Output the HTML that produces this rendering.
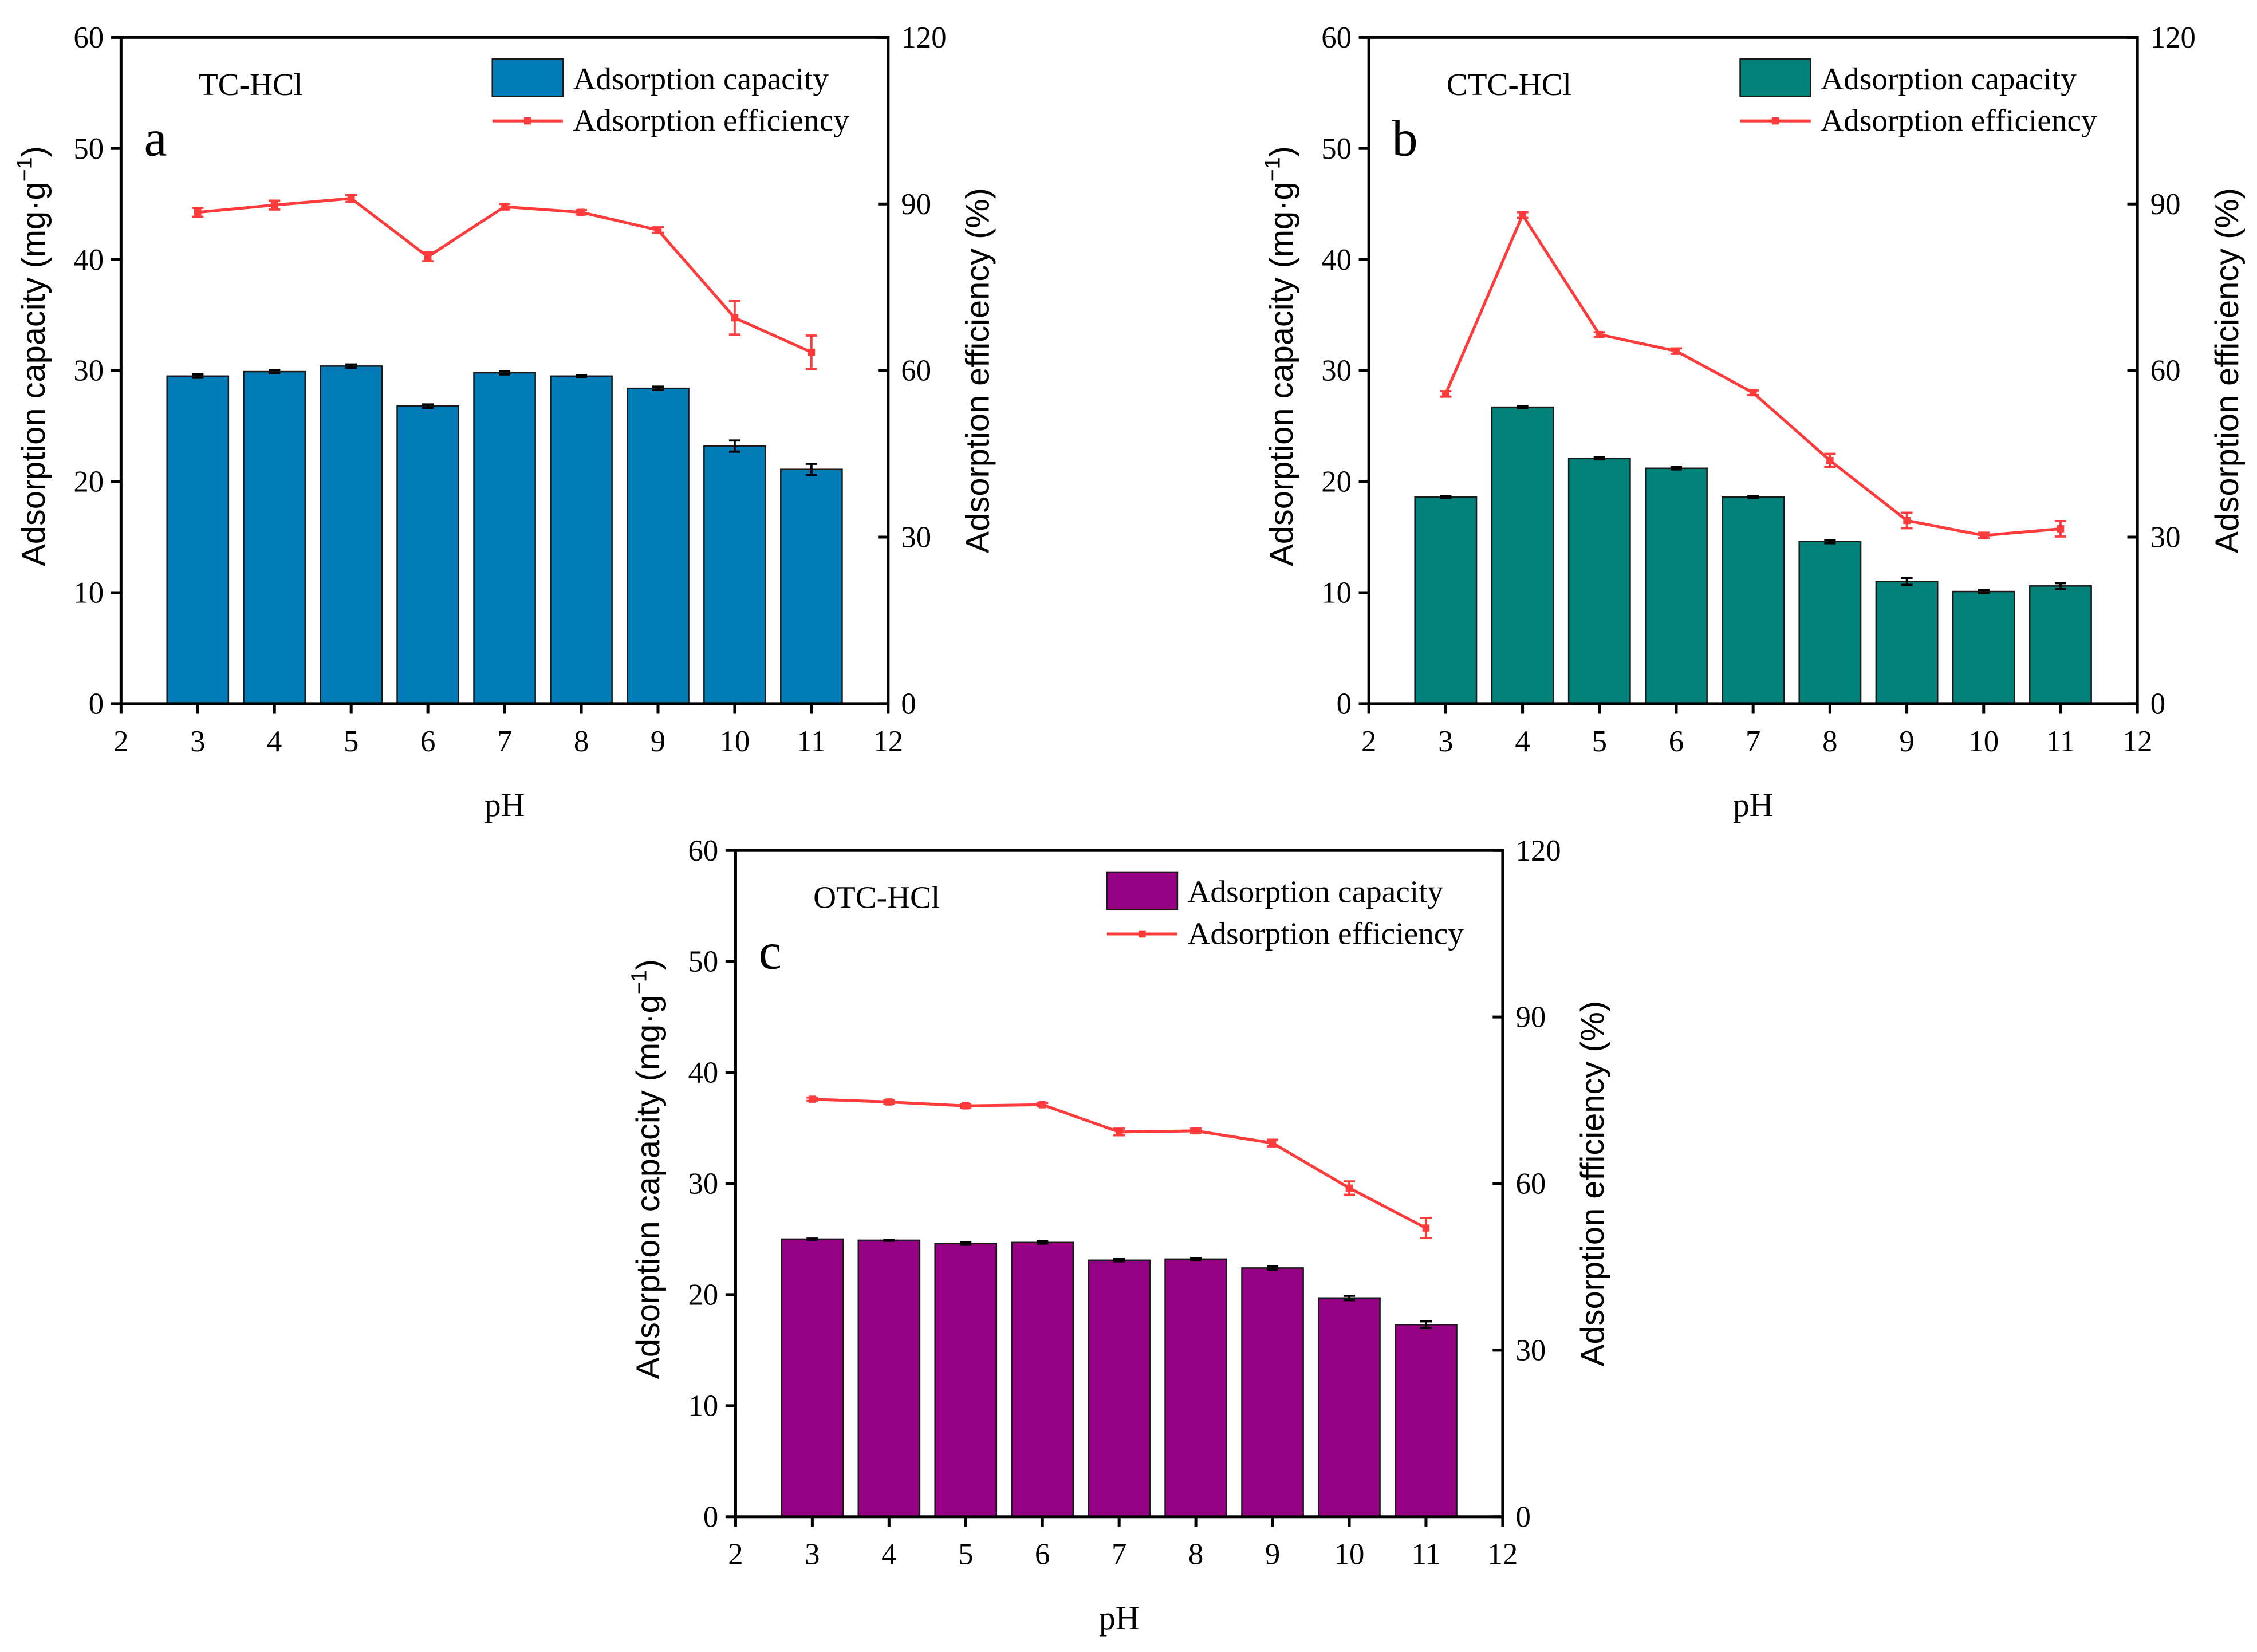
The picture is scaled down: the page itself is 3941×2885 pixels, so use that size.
<!DOCTYPE html>
<html><head><meta charset="utf-8"><style>
html,body{margin:0;padding:0;background:#fff}
svg{display:block}
text{font-family:"Liberation Serif",serif;fill:#000}
</style></head><body>
<svg id="chart" width="3941" height="2885" viewBox="0 0 1568 1148" xmlns="http://www.w3.org/2000/svg"></svg>
<script>
const phValues = [3,4,5,6,7,8,9,10,11];
const xTicks = [2,3,4,5,6,7,8,9,10,11,12];
const leftTicks = [0,10,20,30,40,50,60];
const rightTicks = [0,30,60,90,120];
const capA = [29.5,29.9,30.4,26.8,29.8,29.5,28.4,23.2,21.1];
const capAErr = [0.15,0.15,0.15,0.15,0.15,0.1,0.15,0.5,0.5];
const effA = [88.5,89.8,91.0,80.5,89.5,88.5,85.3,69.5,63.3];
const effAErr = [0.8,0.8,0.6,0.8,0.5,0.4,0.5,3.0,3.0];
const capB = [18.6,26.7,22.1,21.2,18.6,14.6,11.0,10.1,10.6];
const capBErr = [0.1,0.1,0.1,0.1,0.1,0.15,0.3,0.15,0.25];
const effB = [55.8,88.0,66.5,63.5,56.0,43.8,33.0,30.3,31.5];
const effBErr = [0.5,0.5,0.4,0.5,0.4,1.2,1.4,0.5,1.4];
const capC = [25.0,24.9,24.6,24.7,23.1,23.2,22.4,19.7,17.3];
const capCErr = [0.05,0.05,0.1,0.1,0.1,0.1,0.15,0.2,0.3];
const effC = [75.2,74.7,74.0,74.2,69.3,69.5,67.3,59.2,52.0];
const effCErr = [0.3,0.3,0.3,0.3,0.6,0.4,0.6,1.2,1.8];

const NS='http://www.w3.org/2000/svg';
const svg=document.getElementById('chart');
function mk(tag,attrs,parent){const e=document.createElementNS(NS,tag);for(const k in attrs)e.setAttribute(k,attrs[k]);(parent||svg).appendChild(e);return e;}

function panel(id,x0,x1,yTop,yBot,color,title,letter,cap,capErr,eff,effErr){
  const g=mk('g',{});
  
  
  const sx=v=>x0+(v-2)/10*(x1-x0);
  const sy=v=>yBot-v/60*(yBot-yTop);
  const sr=v=>yBot-v/120*(yBot-yTop);
  const bw=(x1-x0)/10*0.8;
  cap.forEach((v,i)=>{
    const r=mk('rect',{x:sx(phValues[i])-bw/2,y:sy(v),width:bw,height:sy(0)-sy(v),fill:color,stroke:'#1a1a1a','stroke-width':1},g);
    
    
    const cx=sx(phValues[i]);
    const e=mk('path',{d:`M${cx},${sy(v+capErr[i])}V${sy(v-capErr[i])}M${cx-4},${sy(v+capErr[i])}H${cx+4}M${cx-4},${sy(v-capErr[i])}H${cx+4}`,stroke:'#000','stroke-width':1.5,fill:'none'},g);
    
    
  });
  const pts=eff.map((v,i)=>sx(phValues[i])+','+sr(v)).join(' ');
  const pl=mk('polyline',{points:pts,fill:'none',stroke:'#ff3b3b','stroke-width':2},g);
  
  
  eff.forEach((v,i)=>{
    const cx=sx(phValues[i]);
    const e=mk('path',{d:`M${cx},${sr(v+effErr[i])}V${sr(v-effErr[i])}M${cx-4},${sr(v+effErr[i])}H${cx+4}M${cx-4},${sr(v-effErr[i])}H${cx+4}`,stroke:'#ff3b3b','stroke-width':1.5,fill:'none'},g);
    
    
    mk('rect',{x:cx-2.5,y:sr(v)-2.5,width:5,height:5,fill:'#ff3b3b'},g);
  });
  const fr=mk('rect',{x:x0,y:yTop,width:x1-x0,height:yBot-yTop,fill:'none',stroke:'#000','stroke-width':2},g);
  
  
  xTicks.forEach(t=>{
    mk('line',{x1:sx(t),x2:sx(t),y1:yBot,y2:yBot+7,stroke:'#000','stroke-width':2},g);
    const tx=mk('text',{x:sx(t),y:yBot+33,'text-anchor':'middle','font-size':21},g);
    tx.textContent=t;
    
    
  });
  leftTicks.forEach(t=>{
    mk('line',{x1:x0-7,x2:x0,y1:sy(t),y2:sy(t),stroke:'#000','stroke-width':2},g);
    const tx=mk('text',{x:x0-12,y:sy(t)+7,'text-anchor':'end','font-size':21},g);
    tx.textContent=t;
    
    
  });
  rightTicks.forEach(t=>{
    mk('line',{x1:x1-7,x2:x1,y1:sr(t),y2:sr(t),stroke:'#000','stroke-width':2},g);
    const tx=mk('text',{x:x1+9,y:sr(t)+7,'text-anchor':'start','font-size':21},g);
    tx.textContent=t;
    
    
  });
  const cy=(yTop+yBot)/2;
  const lt=mk('text',{x:0,y:0,'text-anchor':'middle','font-size':23,transform:`translate(${x0-53},${cy-10}) rotate(-90)`,style:'font-family:"Liberation Sans",sans-serif'},g);
  lt.innerHTML='Adsorption capacity (mg·g<tspan dy="-9" font-size="15">−1</tspan><tspan dy="9">)</tspan>';
  
  
  const rt=mk('text',{x:0,y:0,'text-anchor':'middle','font-size':23,transform:`translate(${x1+70},${cy}) rotate(-90)`,style:'font-family:"Liberation Sans",sans-serif'},g);
  rt.textContent='Adsorption efficiency (%)';
  
  
  const xt=mk('text',{x:(x0+x1)/2,y:yBot+78,'text-anchor':'middle','font-size':23},g);
  xt.textContent='pH';
  
  
  const tt=mk('text',{x:x0+54,y:yTop+40,'font-size':22},g);
  tt.textContent=title;
  
  
  const lt2=mk('text',{x:x0+16,y:yTop+82,'font-size':36},g);
  lt2.textContent=letter;
  
  
  const lx=x0+258;
  const lr=mk('rect',{x:lx,y:yTop+15,width:49,height:26,fill:color,stroke:'#1a1a1a','stroke-width':1},g);
  
  
  const l1=mk('text',{x:lx+56,y:yTop+36,'font-size':22},g);
  l1.textContent='Adsorption capacity';
  
  
  mk('line',{x1:lx,x2:lx+49,y1:yTop+58,y2:yTop+58,stroke:'#ff3b3b','stroke-width':2},g);
  mk('rect',{x:lx+22,y:yTop+55.5,width:5,height:5,fill:'#ff3b3b'},g);
  const l2=mk('text',{x:lx+56,y:yTop+65,'font-size':22},g);
  l2.textContent='Adsorption efficiency';
  
  
}
panel('a',84,617,26,489,'#027bb9','TC-HCl','a',capA,capAErr,effA,effAErr);
panel('b',951,1485,26,489,'#00827b','CTC-HCl','b',capB,capBErr,effB,effBErr);
panel('c',511,1044,591,1054,'#960083','OTC-HCl','c',capC,capCErr,effC,effCErr);
</script>
</body></html>
